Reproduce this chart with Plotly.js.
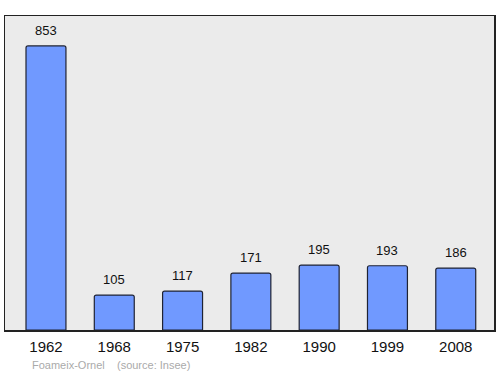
<!DOCTYPE html>
<html><head><meta charset="utf-8">
<script src="https://cdn.plot.ly/plotly-3.0.1.min.js"></script>
<style>html,body{margin:0;padding:0;background:#fff}#chart{width:500px;height:374px}</style>
</head><body><div id="chart"></div>
<script>
var years = ['1962','1968','1975','1982','1990','1999','2008'];
var population = [853,105,117,171,195,193,186];
var footerText = 'Foameix-Ornel    (source: Insee)';

var trace = {
  type: 'bar', x: years, y: population, width: 0.585,
  marker: {color: '#7099ff', line: {color: '#1f2333', width: 1.2}, cornerradius: 2},
  hoverinfo: 'skip'
};
var annotations = years.map(function(yr, i){
  return {x: i, y: population[i], xref: 'x', yref: 'y', text: String(population[i]),
    showarrow: false, yanchor: 'bottom', yshift: 6,
    font: {family: 'Liberation Sans, Arial, sans-serif', size: 13, color: '#111'}};
});
annotations.push({xref: 'paper', yref: 'paper', x: (30-5)/489, y: -0.112, xanchor: 'left', yanchor: 'middle',
  text: footerText.replace(/ {2,}/g, function(m){return m.replace(/ /g,'&nbsp;');}), showarrow: false,
  font: {family: 'Liberation Sans, Arial, sans-serif', size: 11, color: '#aaaaaa'}});

var layout = {
  width: 500, height: 374,
  margin: {l: 5, r: 6, t: 16, b: 44},
  paper_bgcolor: '#ffffff', plot_bgcolor: '#ebebeb',
  showlegend: false,
  xaxis: {type: 'category', range: [-0.6, 6.56], showgrid: false, zeroline: false,
    showline: true, mirror: true, linecolor: '#222', linewidth: 1.5,
    ticks: 'outside', ticklen: 2, tickcolor: 'rgba(0,0,0,0)',
    tickfont: {family: 'Liberation Sans, Arial, sans-serif', size: 15, color: '#111'}},
  yaxis: {range: [0, 943], showgrid: false, zeroline: false, showticklabels: false,
    showline: true, mirror: true, linecolor: '#222', linewidth: 1.5, ticks: ''},
  annotations: annotations
};
Plotly.newPlot('chart', [trace], layout, {staticPlot: true, displayModeBar: false});
</script></body></html>
